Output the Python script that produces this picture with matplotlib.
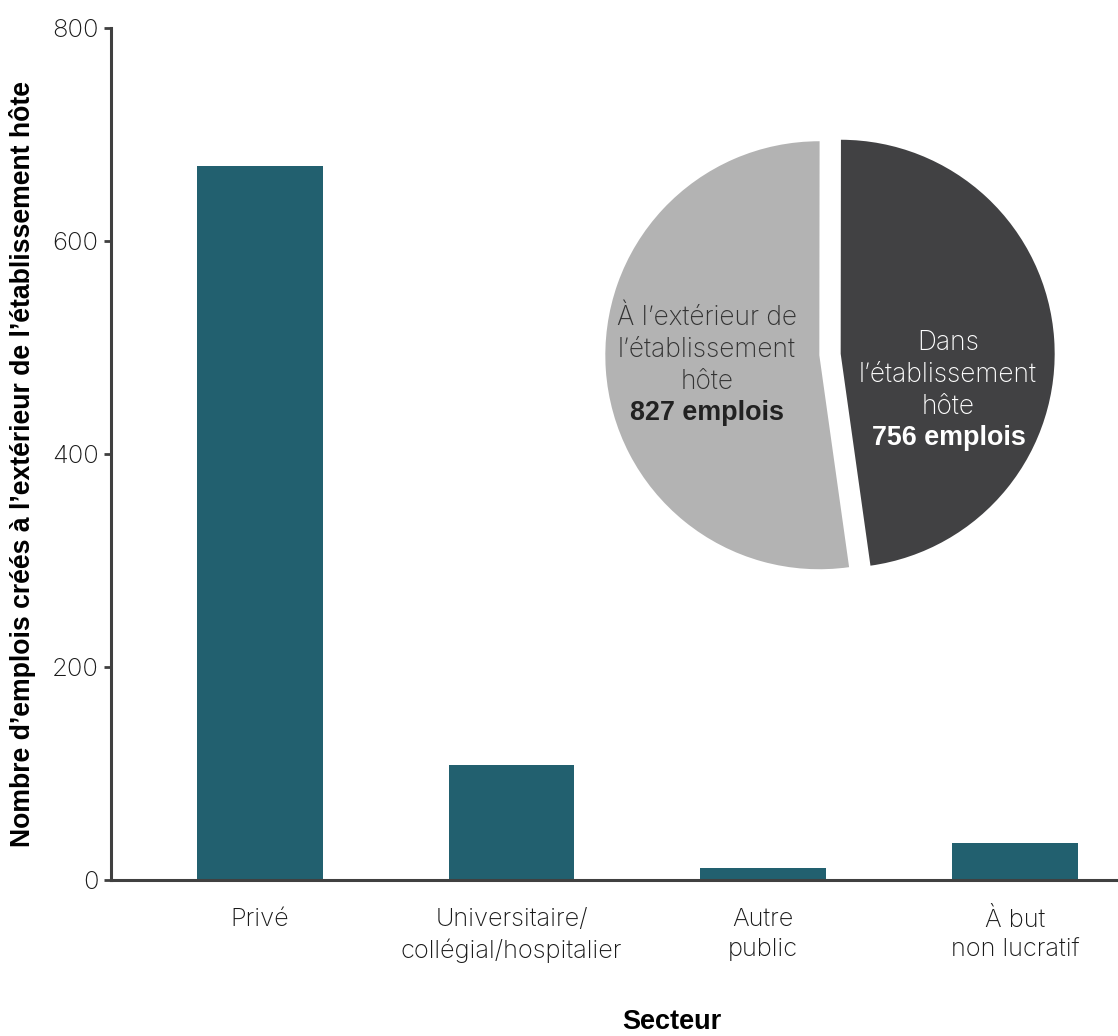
import matplotlib
matplotlib.use("Agg")
import matplotlib.pyplot as plt
import numpy as np

# data
secteurs = ["Privé", "Universitaire/\ncollégial/hospitalier", "Autre\npublic", "À but\nnon lucratif"]
emplois_ext = [670, 108, 11, 35]

pie_values = [756, 827]
pie_labels = ["Dans\nl’établissement\nhôte", "À l’extérieur de\nl’établissement\nhôte"]
pie_totals = ["756 emplois", "827 emplois"]

BAR = "#22606F"
DARK, LIGHT = "#414143", "#B3B3B3"
AXC = "#404040"
TICK_FONT = "Inter"
LBL_FONT = "Liberation Sans"

W, H = 1118, 1036
fig = plt.figure(figsize=(W / 100, H / 100), dpi=100)

# bar chart
ax = fig.add_axes([111 / W, 1 - 880 / H, (W - 111) / W, (880 - 28) / H])
x = np.arange(len(secteurs))
ax.bar(x, emplois_ext, width=0.5, color=BAR)
ax.set_xlim(-0.592, 3.41)
ax.set_ylim(0, 800)
ax.set_yticks([0, 200, 400, 600, 800])
ax.set_xticks(x)
ax.set_xticklabels(secteurs, fontsize=18.3, family=TICK_FONT, fontweight="light",
                   color="#1a1a1a", linespacing=1.4)
for lab in ax.get_yticklabels():
    lab.set_fontsize(18.5); lab.set_family(TICK_FONT); lab.set_fontweight("light")
    lab.set_color("#1a1a1a")
ax.tick_params(axis="x", length=0, pad=20)
ax.tick_params(axis="y", length=5, width=2, color=AXC, pad=4)
for s in ["top", "right"]:
    ax.spines[s].set_visible(False)
for s in ["left", "bottom"]:
    ax.spines[s].set_color(AXC); ax.spines[s].set_linewidth(2.2)

ax.set_xlabel("Secteur", fontsize=19.5, fontweight="bold", family=LBL_FONT, va="center")
ax.xaxis.set_label_coords((672 - 111) / (W - 111), -(1022 - 880) / (880 - 28))
ax.set_ylabel("Nombre d’emplois créés à l’extérieur de l’établissement hôte",
              fontsize=19.2, fontweight="bold", family=LBL_FONT, va="center")
ax.yaxis.set_label_coords(-(111 - 23) / (W - 111), 0.488)

# inset pie
R = 214
cx, cy = 830, 354.5
half = 1.1 * R
pax = fig.add_axes([(cx - half) / W, 1 - (cy + half) / H, 2 * half / W, 2 * half / H])
wedges, _ = pax.pie(pie_values, colors=[DARK, LIGHT], startangle=-82, counterclock=True,
                    explode=[0.05, 0.05], radius=1)
pax.set_xlim(-1.1, 1.1); pax.set_ylim(-1.1, 1.1)
pax.set_aspect("equal"); pax.axis("off")

pax.text(0.55, -0.096, pie_labels[0], ha="center", va="center", fontsize=19,
         family=TICK_FONT, fontweight="light", color="white", linespacing=1.3)
pax.text(0.555, -0.39, pie_totals[0], ha="center", va="center", fontsize=19.4,
         family=LBL_FONT, fontweight="bold", color="white")
pax.text(-0.575, 0.02, pie_labels[1], ha="center", va="center", fontsize=19,
         family=TICK_FONT, fontweight="light", color="#333333", linespacing=1.3)
pax.text(-0.575, -0.273, pie_totals[1], ha="center", va="center", fontsize=19.4,
         family=LBL_FONT, fontweight="bold", color="#222222")

fig.savefig("out.png", dpi=100)
